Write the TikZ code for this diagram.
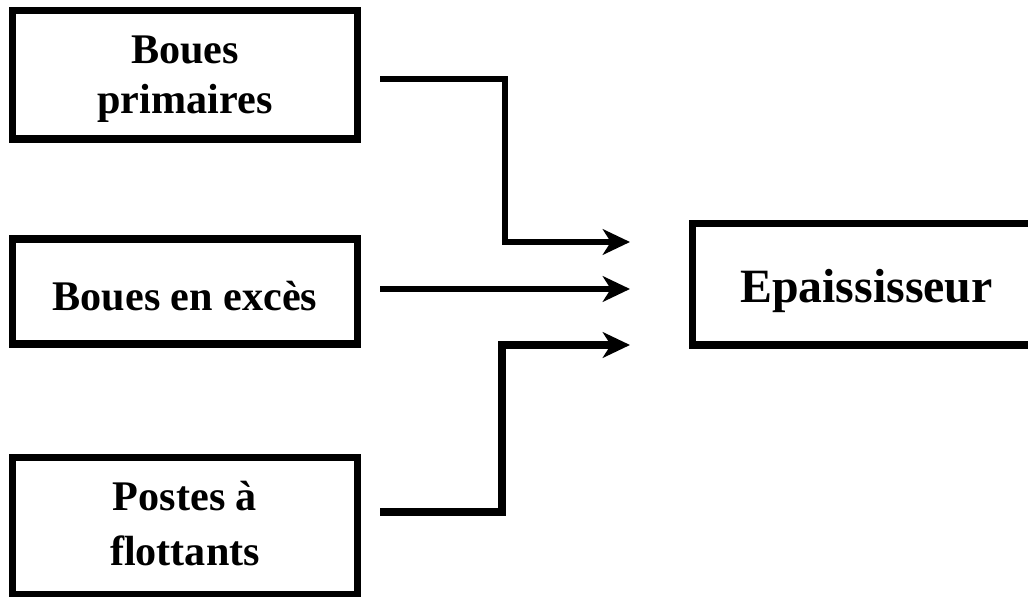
\documentclass[tikz,border=0pt]{standalone}
\usepackage{fontspec}
\setmainfont{Liberation Serif}
\usetikzlibrary{arrows.meta}

\begin{document}
\begin{tikzpicture}[x=0.025cm, y=-0.025cm,
  box/.style={draw, line width=5pt, align=center, inner sep=0pt,
    font=\bfseries\fontsize{30}{33.5}\selectfont},
  flow/.style={-{Stealth[length=0.68cm, width=0.64cm, inset=0.2cm]}, line width=4.3pt}]

\useasboundingbox (0,0) rectangle (1028,597);

% sources
\node[box, minimum width=8.6cm, minimum height=3.2cm,
  text height=1.9cm, text depth=0cm,
  font=\bfseries\fontsize{30}{35}\selectfont] (prim) at (185,75) {Boues\\primaires};
\node[box, minimum width=8.6cm, minimum height=2.625cm,
  text height=0.925cm, text depth=0cm] (exces) at (185,291.5) {Boues en excès};
\node[box, minimum width=8.6cm, minimum height=3.4cm,
  text height=1.95cm, text depth=0cm,
  font=\bfseries\fontsize{30}{39}\selectfont] (flot) at (185,526) {Postes à\\flottants};

% target
\node[box, minimum width=8.675cm, minimum height=3.025cm,
  text height=0.875cm, text depth=0cm,
  font=\bfseries\fontsize{34}{38}\selectfont] (epais) at (866.5,284.5) {Epaississeur};

% arrow ends
\coordinate (s1) at (380,79);
\coordinate (k1) at (505,242);
\coordinate (t1) at (630,242);
\coordinate (s2) at (380,289);
\coordinate (t2) at (630,289);
\coordinate (s3) at (380,512);
\coordinate (k3) at (502,345);
\coordinate (t3) at (630,345);

\draw[flow] (s1) -| (k1) -- (t1);
\draw[flow] (s2) -- (t2);
\draw[flow, line width=6pt] (s3) -| (k3) -- (t3);
\end{tikzpicture}
\end{document}
